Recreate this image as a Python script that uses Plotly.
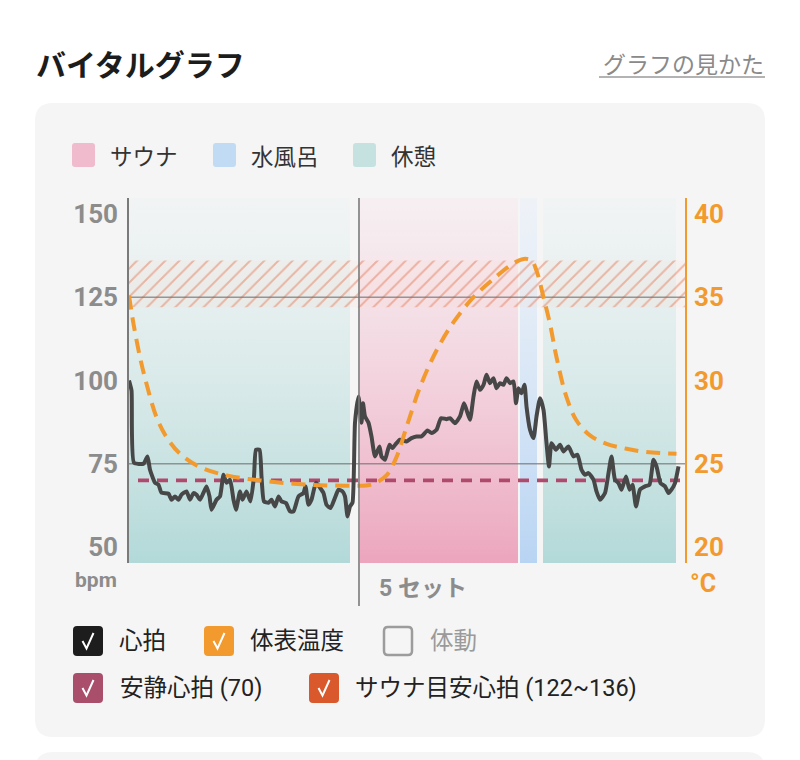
import plotly.graph_objects as go

# ---------------- data ----------------
# heart rate (time in minutes, bpm)
hr_time = [0, 0.5, 1.0, 2.9, 3.7, 4.2, 5.2, 5.9, 6.5, 7.9, 8.5, 9.2, 9.9, 10.5, 11.5, 12.2, 12.9, 13.5,
           14.2, 14.9, 15.5, 16.1, 16.5, 17.5, 18.2, 18.9, 19.5, 20.2, 20.9, 21.4, 22.2, 22.7, 23.5, 24.3,
           25.0, 25.4, 26.1, 26.5, 27.0, 27.9, 28.5, 29.2, 29.9, 30.5, 31.4, 32.2, 32.9, 33.9, 34.9, 35.3,
           35.9, 36.5, 37.4, 38.2, 38.9, 39.5, 40.3, 41.2, 41.9, 42.7, 43.2, 43.7, 44.2, 44.7, 45.2, 45.9,
           46.5, 46.8, 47.2, 47.9, 48.5, 49.2, 50.1, 50.5, 51.2, 52.1, 52.7, 53.5, 54.2, 55.5, 56.5, 57.5,
           58.5, 59.7, 60.5, 61.5, 62.4, 63.5, 64.2, 65.2, 66.2, 67.0, 67.5, 68.2, 68.9, 69.5, 70.2, 70.9,
           71.5, 72.2, 72.9, 73.5, 74.2, 74.9, 75.5, 76.2, 76.9, 77.4, 77.9, 78.5, 79.1, 79.5, 80.2, 80.9,
           81.5, 82.2, 82.9, 83.5, 84.0, 84.5, 85.4, 86.2, 86.9, 87.9, 88.9, 89.7, 90.5, 91.2, 91.9, 92.9,
           93.5, 94.2, 95.2, 95.9, 96.5, 97.2, 97.9, 98.5, 99.4, 100.1, 100.7, 101.4, 102.2, 103.2, 104.1,
           104.9, 105.5, 106.3, 107.2, 107.9, 108.5, 109.2, 109.9]
hr_bpm = [100, 97, 75.3, 75, 77.2, 73.2, 69.3, 68.7, 66.3, 66, 64.2, 65.2, 64.2, 65.7, 66.7, 64.2, 66.2, 65.7,
          64.2, 66.3, 68.2, 65.2, 61.2, 64.2, 65.2, 71.7, 69.3, 70.2, 64.2, 61.2, 66.7, 64.2, 66.7, 63.7,
          71.2, 79.2, 79.2, 71.2, 63.7, 63.3, 64.2, 62.2, 65.2, 63.7, 63.2, 60.7, 60.7, 65.2, 66.2, 68.2,
          62.7, 64.2, 69.3, 67.8, 66.2, 62.7, 61.7, 64.8, 67.2, 66.7, 65.2, 59.2, 62.2, 63.3, 87.3, 95.2,
          87.3, 93.2, 89.2, 87.3, 83.2, 77.2, 80.2, 77.2, 76.2, 80.7, 79.7, 81.2, 82.2, 81.7, 82.7, 83.2,
          83.2, 85.0, 84.2, 85.2, 88.7, 88.4, 88.7, 87.2, 89.2, 93.2, 91.2, 88.2, 95.2, 99.7, 97.2, 98.7,
          101.7, 99.2, 100.7, 97.7, 99.2, 98.7, 100.7, 99.2, 99.7, 93.2, 97.7, 96.2, 98.7, 92.2, 85.2, 82.7,
          89.2, 94.7, 91.2, 81.2, 74.2, 81.2, 79.2, 80.7, 78.7, 80.2, 77.2, 77.7, 73.2, 71.7, 72.2, 70.2,
          66.7, 64.2, 66.2, 72.2, 77.2, 70.2, 69.2, 67.2, 71.2, 67.2, 68.7, 62.2, 67.2, 68.2, 68.7,
          76.2, 74.2, 69.2, 68.2, 66.2, 67.2, 69.2, 74.2]

# skin temperature (time in minutes, deg C)
temp_time = [0, 0.9, 2.2, 3.5, 5.5, 7.5, 10.2, 14.2, 19.5, 26.2, 32.9, 39.5, 47.5, 48.9, 51.5, 53.5, 55.5,
             58.2, 61.5, 64.9, 68.9, 72.9, 76.2, 78.9, 80.5, 81.5, 82.9, 84.2, 85.5, 87.5, 89.5, 92.2,
             95.5, 99.5, 103.5, 109.5]
temp_c = [35.1, 33.4, 31.4, 29.8, 27.8, 26.6, 25.6, 24.8, 24.3, 24.0, 23.8, 23.7, 23.7, 23.8, 24.3, 25.4,
          27.2, 29.6, 31.8, 33.5, 35.0, 36.1, 36.9, 37.3, 37.2, 36.6, 35.0, 33.4, 31.4, 29.0, 27.6, 26.7,
          26.2, 25.9, 25.7, 25.6]

# phases (start, end in minutes)
phase_names = ["休憩", "サウナ", "水風呂", "休憩"]
phase_start = [0, 46.2, 78.2, 82.8]
phase_end = [44.2, 77.8, 81.6, 109.4]
set_start = 46.0
set_label = "5セット"

resting_hr = 70
target_low, target_high = 122, 136
time_span = [0, 111.2]
ref_lines = [75, 125]

bpm_ticks = [50, 75, 100, 125, 150]
temp_ticks = [20, 25, 30, 35, 40]
bpm_range = [45.2, 154.8]
temp_range = [19.04, 40.96]

legend_top = ["サウナ", "水風呂", "休憩"]
checks_row1 = ["心拍", "体表温度", "体動"]
checks_row2 = ["安静心拍 (70)", "サウナ目安心拍 (122~136)"]

# ---------------- styling ----------------
W, H = 800, 760
JP = "Noto Sans CJK JP"
MIX = "Roboto, 'Noto Sans CJK JP'"
NUM = "Roboto"
GRAY = "#8c8c8c"
ORANGE = "#f29a2e"

band_style = {
    "休憩": ("rgba(178,217,216,1)", "rgba(238,243,243,0.5)"),
    "サウナ": ("rgba(236,165,189,1)", "rgba(247,233,238,0.5)"),
    "水風呂": ("rgba(184,212,243,1)", "rgba(233,240,249,0.55)"),
}


def X(px):
    return px / W


def Y(py):
    return 1 - py / H


def rrect(x0, y0, x1, y1, r):
    # rounded rectangle path in paper coords, input in pixels
    rx, ry = r / W, r / H
    a, b, c, d = X(x0), Y(y0), X(x1), Y(y1)
    return (f"M{a+rx},{b} L{c-rx},{b} Q{c},{b} {c},{b-ry} L{c},{d+ry} Q{c},{d} {c-rx},{d} "
            f"L{a+rx},{d} Q{a},{d} {a},{d+ry} L{a},{b-ry} Q{a},{b} {a+rx},{b} Z")


fig = go.Figure()

# phase bands
for name, s, e in zip(phase_names, phase_start, phase_end):
    bot, top = band_style[name]
    fig.add_trace(go.Scatter(
        x=[s, e, e, s, s], y=[bpm_range[0], bpm_range[0], bpm_range[1], bpm_range[1], bpm_range[0]],
        mode="lines", line=dict(width=0), fill="toself",
        fillgradient=dict(type="vertical", colorscale=[[0, bot], [1, top]]),
        hoverinfo="skip", showlegend=False))

# sauna target HR hatched band
fig.add_trace(go.Scatter(
    x=[time_span[0], time_span[1], time_span[1], time_span[0], time_span[0]],
    y=[target_low, target_low, target_high, target_high, target_low],
    mode="lines", line=dict(width=0), fill="toself",
    fillcolor="rgba(250,205,185,0.12)",
    fillpattern=dict(shape="/", fgcolor="rgba(224,105,65,0.85)", bgcolor="rgba(250,215,200,0.15)",
                     size=10, solidity=0.2),
    hoverinfo="skip", showlegend=False))

# reference lines
for v in ref_lines:
    fig.add_trace(go.Scatter(x=time_span, y=[v, v], mode="lines",
                             line=dict(color="rgba(120,120,120,0.75)", width=1.5),
                             hoverinfo="skip", showlegend=False))

# resting HR
fig.add_trace(go.Scatter(x=[1.8, 110.2], y=[resting_hr, resting_hr], mode="lines",
                         line=dict(color="#b04a6d", width=3.8, dash="11px,8px"),
                         hoverinfo="skip", showlegend=False))

# heart rate
fig.add_trace(go.Scatter(x=hr_time, y=hr_bpm, mode="lines",
                         line=dict(color="#474747", width=4, shape="spline", smoothing=0.5),
                         hoverinfo="skip", showlegend=False))

# temperature
fig.add_trace(go.Scatter(x=temp_time, y=temp_c, mode="lines", yaxis="y2",
                         line=dict(color=ORANGE, width=4, dash="14px,8px", shape="spline", smoothing=1.0),
                         hoverinfo="skip", showlegend=False))

shapes = []
annotations = []

# card backgrounds
shapes.append(dict(type="path", xref="paper", yref="paper", layer="below",
                   path=rrect(35, 103, 765, 737, 18), fillcolor="#f5f5f5", line=dict(width=0)))
shapes.append(dict(type="path", xref="paper", yref="paper", layer="below",
                   path=rrect(35, 752, 765, 800, 18), fillcolor="#f5f5f5", line=dict(width=0)))

# set divider line
shapes.append(dict(type="line", xref="x", yref="paper", x0=set_start, x1=set_start,
                   y0=Y(606), y1=Y(198), line=dict(color="#7a7a7a", width=1.6), layer="above"))

# title
annotations.append(dict(text="<b>バイタルグラフ</b>", x=X(34), y=Y(63), xref="paper", yref="paper",
                        xanchor="left", yanchor="middle", showarrow=False,
                        font=dict(family=JP, size=30, color="#1c1c1c")))
annotations.append(dict(text="グラフの見かた", x=X(766), y=Y(63), xref="paper", yref="paper",
                        xanchor="right", yanchor="middle", showarrow=False,
                        font=dict(family=JP, size=23, color="#8a8a8a")))
shapes.append(dict(type="line", xref="paper", yref="paper", x0=X(599), x1=X(765), y0=Y(77), y1=Y(77),
                   line=dict(color="#9a9a9a", width=1.5)))

# top legend
leg_cols = {"サウナ": "#f0bccd", "水風呂": "#c0dbf3", "休憩": "#c5e2e0"}
leg_x = [72, 213, 353]
for name, lx in zip(legend_top, leg_x):
    shapes.append(dict(type="path", xref="paper", yref="paper", path=rrect(lx, 143, lx + 23, 167, 3),
                       fillcolor=leg_cols[name], line=dict(width=0)))
    annotations.append(dict(text=name, x=X(lx + 36), y=Y(155), xref="paper", yref="paper",
                            xanchor="left", yanchor="middle", showarrow=False,
                            font=dict(family=JP, size=22.5, color="#333333")))

# axis units / set label
annotations.append(dict(text="<b>bpm</b>", x=X(119), y=Y(580), xref="paper", yref="paper",
                        xanchor="right", yanchor="middle", showarrow=False,
                        font=dict(family=NUM, size=21, color=GRAY)))
annotations.append(dict(text="<b>°C</b>", x=X(688), y=Y(583), xref="paper", yref="paper",
                        xanchor="left", yanchor="middle", showarrow=False,
                        font=dict(family=NUM, size=25, color=ORANGE)))
annotations.append(dict(text="<b>" + set_label.replace("5", "5 ") + "</b>", x=X(377), y=Y(588),
                        xref="paper", yref="paper", xanchor="left", yanchor="middle", showarrow=False,
                        font=dict(family=MIX, size=23, color=GRAY)))


# checkboxes
def checkbox(x, y, color, checked=True):
    if checked:
        shapes.append(dict(type="path", xref="paper", yref="paper", path=rrect(x, y, x + 30, y + 30, 4),
                           fillcolor=color, line=dict(width=0)))
        p = f"M{X(x+9.5)},{Y(y+15)} L{X(x+13.5)},{Y(y+22.5)} L{X(x+20.5)},{Y(y+7)}"
        shapes.append(dict(type="path", xref="paper", yref="paper", path=p,
                           line=dict(color="white", width=2)))
    else:
        shapes.append(dict(type="path", xref="paper", yref="paper", path=rrect(x + 1, y + 1, x + 29, y + 29, 4),
                           fillcolor="#f5f5f5", line=dict(color="#9c9c9c", width=2.5)))


row1 = [(73, "#1d1d1d", True, 117, "#222222"), (204, "#f29a2e", True, 248, "#222222"),
        (383, None, False, 428, "#9a9a9a")]
for (bx, col, chk, tx, tcol), label in zip(row1, checks_row1):
    checkbox(bx, 626, col, chk)
    annotations.append(dict(text=label, x=X(tx), y=Y(641), xref="paper", yref="paper",
                            xanchor="left", yanchor="middle", showarrow=False,
                            font=dict(family=MIX, size=23.5, color=tcol)))
row2 = [(73, "#a94f6c", 118), (309, "#d9582c", 353)]
for (bx, col, tx), label in zip(row2, checks_row2):
    checkbox(bx, 673, col, True)
    annotations.append(dict(text=label, x=X(tx), y=Y(688), xref="paper", yref="paper",
                            xanchor="left", yanchor="middle", showarrow=False,
                            font=dict(family=MIX, size=23.5, color="#222222")))

fig.update_layout(
    width=W, height=H, margin=dict(l=0, r=0, t=0, b=0),
    paper_bgcolor="white", plot_bgcolor="#fbfbfb",
    showlegend=False,
    xaxis=dict(domain=[X(129), X(685)], range=time_span, visible=False, fixedrange=True),
    yaxis=dict(domain=[Y(563), Y(198)], range=bpm_range, tickvals=bpm_ticks,
               showgrid=False, zeroline=False, showline=True, linecolor="#7a7a7a", linewidth=1.6,
               ticks="", ticklabelstandoff=4,
               tickfont=dict(family=NUM, size=26, color=GRAY, weight="bold")),
    yaxis2=dict(overlaying="y", side="right", range=temp_range, tickvals=temp_ticks,
                showgrid=False, zeroline=False, showline=True, linecolor=ORANGE, linewidth=1.8,
                ticks="", ticklabelstandoff=2,
                tickfont=dict(family=NUM, size=26, color=ORANGE, weight="bold")),
    shapes=shapes, annotations=annotations,
)

fig.write_html("out.html")
